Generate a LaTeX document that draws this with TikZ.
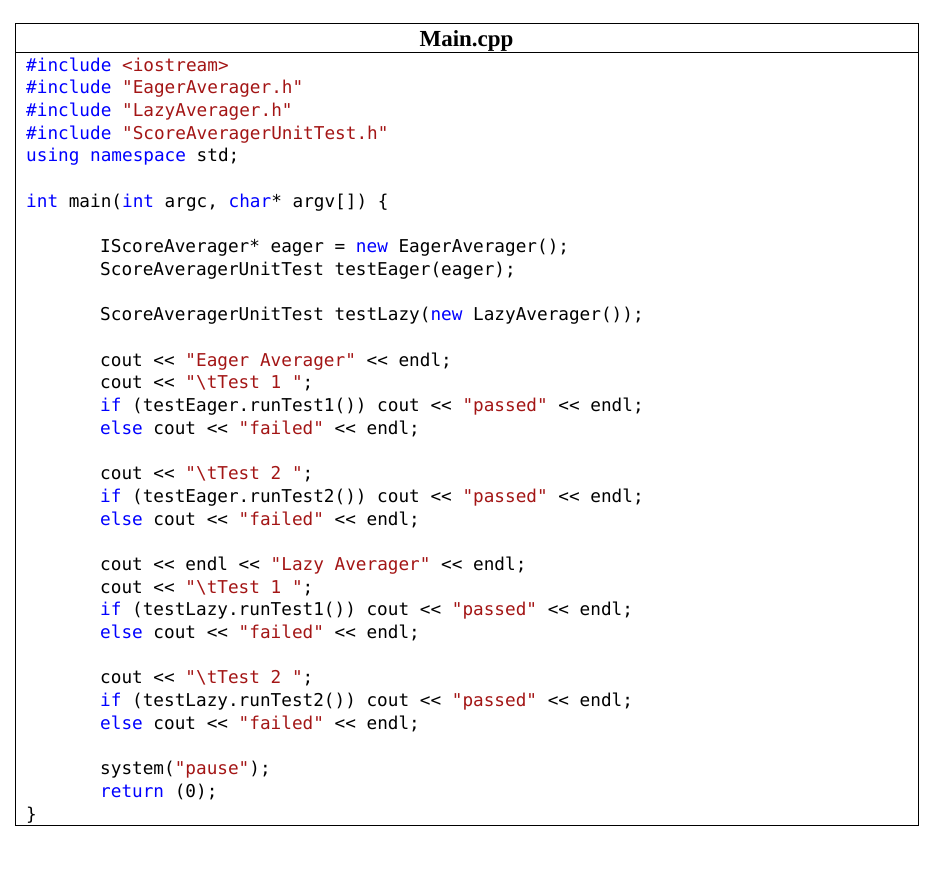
\documentclass[tikz,border=0pt]{standalone}
\usepackage{fontspec}
\setmainfont{Liberation Serif}
\setmonofont{DejaVu Sans Mono}
\definecolor{kw}{RGB}{0,0,255}
\definecolor{st}{RGB}{163,21,21}
\newcommand{\kw}[1]{\textcolor{kw}{#1}}
\newcommand{\st}[1]{\textcolor{st}{#1}}
\newcommand{\bs}{\textbackslash}
\tikzset{codeline/.style={anchor=base west,inner sep=0pt,font=\ttfamily\fontsize{17.7}{20}\selectfont}}
\begin{document}
\begin{tikzpicture}[x=1pt,y=-1pt]
\useasboundingbox (0,0) rectangle (950,887);
\draw[line width=0.8pt] (15,23) rectangle (918,825);
\draw[line width=0.8pt] (15,52) -- (918,52);
\node[font=\bfseries\fontsize{23}{26}\selectfont,anchor=base] (title) at (466.5,46) {Main.cpp};
\newcommand{\cl}[3]{\node[codeline] (l#1) at (#2,{71+22.7*#1}) {#3};}
\cl{0}{26}{\kw{\#include} \st{<iostream>}}
\cl{1}{26}{\kw{\#include} \st{"EagerAverager.h"}}
\cl{2}{26}{\kw{\#include} \st{"LazyAverager.h"}}
\cl{3}{26}{\kw{\#include} \st{"ScoreAveragerUnitTest.h"}}
\cl{4}{26}{\kw{using} \kw{namespace} std;}
\cl{6}{26}{\kw{int} main(\kw{int} argc, \kw{char}* argv[]) \{}
\cl{8}{100}{IScoreAverager* eager = \kw{new} EagerAverager();}
\cl{9}{100}{ScoreAveragerUnitTest testEager(eager);}
\cl{11}{100}{ScoreAveragerUnitTest testLazy(\kw{new} LazyAverager());}
\cl{13}{100}{cout << \st{"Eager Averager"} << endl;}
\cl{14}{100}{cout << \st{"\bs tTest 1 "};}
\cl{15}{100}{\kw{if} (testEager.runTest1()) cout << \st{"passed"} << endl;}
\cl{16}{100}{\kw{else} cout << \st{"failed"} << endl;}
\cl{18}{100}{cout << \st{"\bs tTest 2 "};}
\cl{19}{100}{\kw{if} (testEager.runTest2()) cout << \st{"passed"} << endl;}
\cl{20}{100}{\kw{else} cout << \st{"failed"} << endl;}
\cl{22}{100}{cout << endl << \st{"Lazy Averager"} << endl;}
\cl{23}{100}{cout << \st{"\bs tTest 1 "};}
\cl{24}{100}{\kw{if} (testLazy.runTest1()) cout << \st{"passed"} << endl;}
\cl{25}{100}{\kw{else} cout << \st{"failed"} << endl;}
\cl{27}{100}{cout << \st{"\bs tTest 2 "};}
\cl{28}{100}{\kw{if} (testLazy.runTest2()) cout << \st{"passed"} << endl;}
\cl{29}{100}{\kw{else} cout << \st{"failed"} << endl;}
\cl{31}{100}{system(\st{"pause"});}
\cl{32}{100}{\kw{return} (0);}
\cl{33}{26}{\}}
\end{tikzpicture}
\end{document}
